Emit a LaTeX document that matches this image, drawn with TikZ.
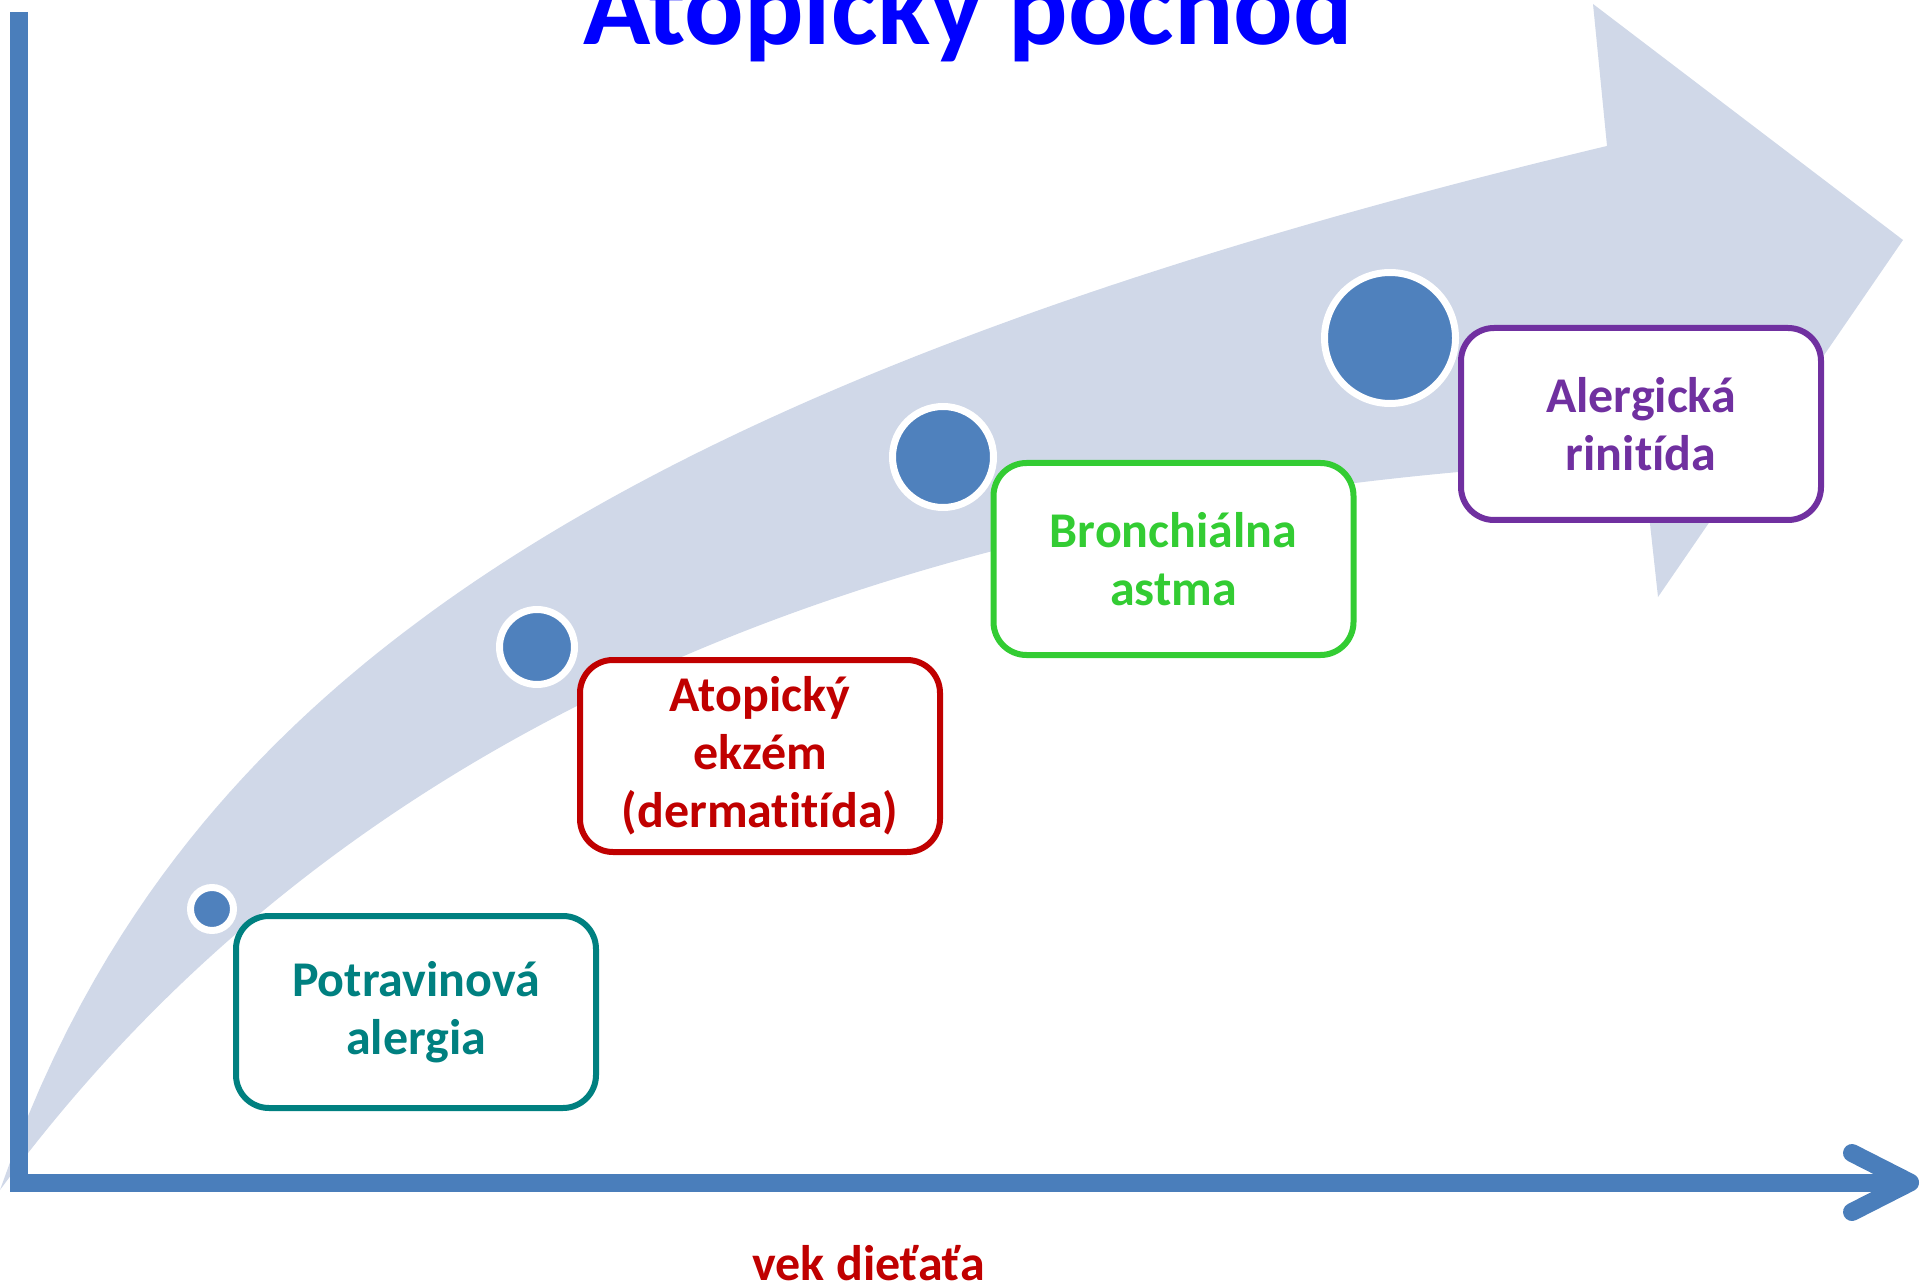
\documentclass[tikz,border=0pt]{standalone}
\usepackage{fontspec}
\setmainfont{Carlito}[Ligatures=NoCommon]
\definecolor{bandblue}{RGB}{208,216,232}
\definecolor{axisblue}{RGB}{74,126,187}
\definecolor{dotblue}{RGB}{79,129,189}
\definecolor{foodteal}{RGB}{0,128,128}
\definecolor{eczred}{RGB}{192,0,0}
\definecolor{asthgreen}{RGB}{51,204,51}
\definecolor{rhinpurple}{RGB}{112,48,160}
\definecolor{titleblue}{RGB}{0,0,255}
\begin{document}
\begin{tikzpicture}[x=0.5pt,y=-0.5pt,
  axisline/.style={draw=axisblue, line width=9pt},
  dot/.style={circle, fill=dotblue, draw=white, line width=3.5pt, inner sep=0pt},
  disease/.style={rectangle, rounded corners=16.5pt, fill=white, line width=3pt,
    minimum width=180pt, minimum height=96pt, inner sep=0pt, align=center,
    font=\fontsize{25}{29}\selectfont\bfseries},
]
\useasboundingbox (0,0) rectangle (1921,1288);
\clip (0,0) rectangle (1921,1288);

% broad curved arrow in the background: logarithmic upper edge,
% flattening lower edge, head at the upper right
\fill[bandblue]
  plot[domain=0:1607, samples=120, variable=\t] ({\t},{1190-419*ln(1+\t/145)})
  -- (1593,4) -- (1903,240) -- (1658,597) -- (1643,460)
  .. controls (882.3,490.7) and (335.7,734) .. (0,1190)
  -- cycle;

% axes
\coordinate (ytop) at (18.5,12);
\coordinate (origin) at (18.5,1182.5);
\coordinate (xend) at (1905,1182.5);
\coordinate (xtip) at (1910,1182.5);
\coordinate (headup) at (1852,1153);
\coordinate (headdown) at (1852,1212);
\draw[axisline, line cap=butt, line join=miter] (ytop) -- (origin) -- (xend);
\draw[axisline, line cap=round, line join=round] (headup) -- (xtip) -- (headdown);

% stage markers
\node[dot, minimum size=21.5pt] (d1) at (212,909) {};
\node[dot, minimum size=37.5pt] (d2) at (537,647) {};
\node[dot, minimum size=50.5pt] (d3) at (943,457) {};
\node[dot, minimum size=65.5pt] (d4) at (1390,338) {};

% stages
\node[disease, draw=foodteal, text=foodteal] (food) at (416,1012) {Potravinová\\alergia};
\node[disease, draw=eczred, text=eczred] (eczema) at (760,756) {Atopický\\ekzém\\(dermatitída)};
\node[disease, draw=asthgreen, text=asthgreen] (asthma) at (1173.5,559) {Bronchiálna\\astma};
\node[disease, draw=rhinpurple, text=rhinpurple] (rhinitis) at (1641,424) {Alergická\\rinitída};

% title and axis label
\node[anchor=base, text=titleblue, font=\fontsize{55.5}{60}\selectfont\bfseries, inner sep=0pt] (title) at (968,45) {Atopický pochod};
\node[anchor=base, text=eczred, font=\fontsize{25}{30}\selectfont\bfseries, inner sep=0pt] (xlabel) at (869,1280) {vek dieťaťa};
\end{tikzpicture}
\end{document}
